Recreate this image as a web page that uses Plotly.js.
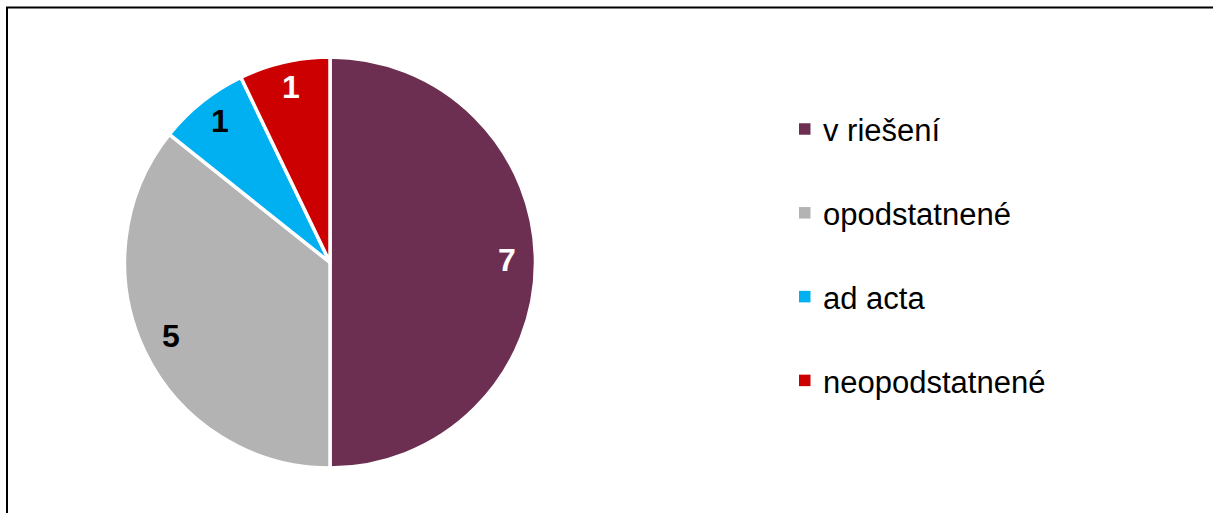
<!DOCTYPE html>
<html>
<head>
<meta charset="utf-8">
<script src="https://cdn.plot.ly/plotly-3.0.1.min.js"></script>
<style>
  html, body { margin: 0; padding: 0; background: #ffffff; }
  #chart { width: 1213px; height: 513px; }
</style>
</head>
<body>
<div id="chart"></div>
<script>
// ---- data ----
const categories = ['v riešení', 'opodstatnené', 'ad acta', 'neopodstatnené'];
const values = [7, 5, 1, 1];
const colors = ['#6D2F51', '#B3B3B3', '#00B0F0', '#CC0000'];
const labelColors = ['#FFFFFF', '#000000', '#000000', '#FFFFFF'];

// ---- layout constants ----
const W = 1213, H = 513;
const CX = 330, CY = 262.5, R = 205.5;
const LABEL_FRAC = 0.86;
const LABEL_DY = -3;
const FONT = 'Arial, "Liberation Sans", sans-serif';

const trace = {
  type: 'pie',
  labels: categories,
  values: values,
  sort: false,
  direction: 'clockwise',
  rotation: 0,
  marker: { colors: colors, line: { color: '#FFFFFF', width: 3.5 } },
  textinfo: 'none',
  hoverinfo: 'label+value',
  showlegend: false,
  domain: {
    x: [(CX - R) / W, (CX + R) / W],
    y: [(H - CY - R) / H, (H - CY + R) / H]
  }
};

// data labels placed along each slice's mid-angle
const total = values.reduce((a, b) => a + b, 0);
const annotations = [];
let cum = 0;
values.forEach((v, i) => {
  const mid = (cum + v / 2) / total * 2 * Math.PI;
  cum += v;
  const px = CX + R * LABEL_FRAC * Math.sin(mid);
  const py = CY - R * LABEL_FRAC * Math.cos(mid) + LABEL_DY;
  annotations.push({
    xref: 'paper', yref: 'paper',
    x: px / W, y: 1 - py / H,
    xanchor: 'center', yanchor: 'middle',
    text: String(v), showarrow: false,
    font: { family: FONT, size: 32, color: labelColors[i], weight: 'bold' }
  });
});

// custom legend
const LEG_X = 799, LEG_SQ = 11.5, LEG_Y0 = 129, LEG_DY = 83.8, LEG_TX = 821;
const shapes = [];
categories.forEach((c, i) => {
  const y = LEG_Y0 + i * LEG_DY;
  shapes.push({
    type: 'rect', xref: 'paper', yref: 'paper',
    x0: LEG_X / W, x1: (LEG_X + LEG_SQ) / W,
    y0: 1 - (y + LEG_SQ / 2) / H, y1: 1 - (y - LEG_SQ / 2) / H,
    fillcolor: colors[i], line: { width: 0 }
  });
  annotations.push({
    xref: 'paper', yref: 'paper',
    x: LEG_TX / W, y: 1 - (y + 2) / H,
    xanchor: 'left', yanchor: 'middle',
    text: c, showarrow: false,
    font: { family: FONT, size: 31, color: '#000000' }
  });
});

// chart frame (top and left edges visible)
shapes.push({
  type: 'rect', xref: 'paper', yref: 'paper',
  x0: 7 / W, x1: (W + 20) / W, y0: -0.1, y1: 1 - 7.5 / H,
  line: { color: '#000000', width: 2 }, fillcolor: 'rgba(0,0,0,0)'
});

const layout = {
  width: W, height: H,
  margin: { l: 0, r: 0, t: 0, b: 0, pad: 0 },
  paper_bgcolor: '#FFFFFF',
  plot_bgcolor: '#FFFFFF',
  showlegend: false,
  annotations: annotations,
  shapes: shapes,
  font: { family: FONT }
};

Plotly.newPlot('chart', [trace], layout, { displayModeBar: false, staticPlot: true });
</script>
</body>
</html>
